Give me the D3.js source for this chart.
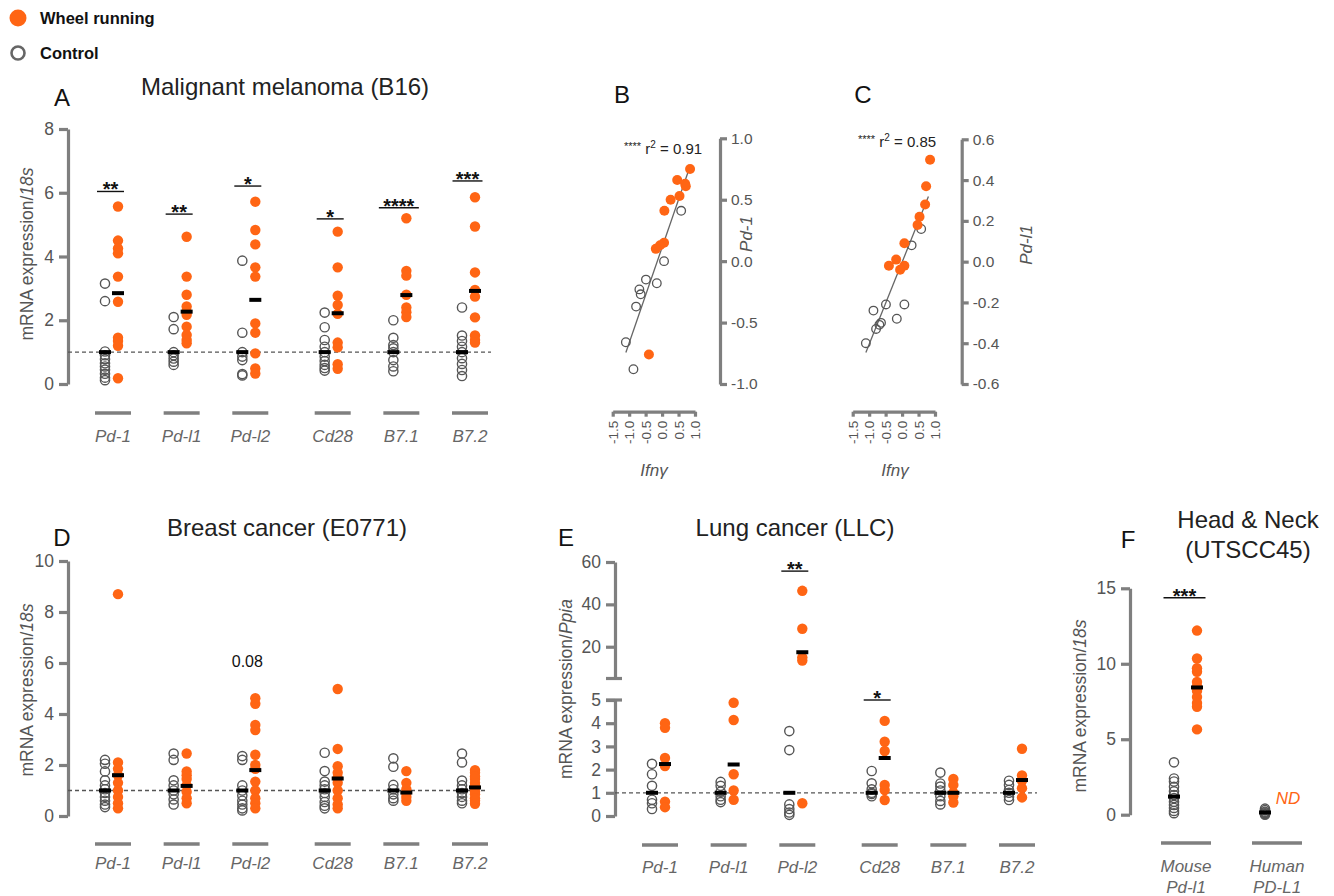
<!DOCTYPE html>
<html>
<head>
<meta charset="utf-8">
<script src="https://cdn.jsdelivr.net/npm/d3@7"></script>
<style>
  body { margin: 0; background: #fff; }
  text { font-family: "Liberation Sans", Arial, Helvetica, sans-serif; }
</style>
</head>
<body>
<svg id="fig" width="1334" height="896"></svg>
<script>
// ---- data ----
var genes = ["Pd-1", "Pd-l1", "Pd-l2", "Cd28", "B7.1", "B7.2"];

// A: malignant melanoma (B16), mRNA / 18s
var aCtrl = [
  [3.15, 2.6, 1.02, 0.9, 0.78, 0.65, 0.55, 0.45, 0.32, 0.2, 0.12],
  [2.1, 1.72, 1.0, 0.9, 0.8, 0.7, 0.6],
  [3.87, 1.61, 1.0, 0.86, 0.75, 0.31, 0.27],
  [2.24, 1.78, 1.38, 1.17, 1.0, 0.86, 0.72, 0.6, 0.5, 0.42],
  [2.0, 1.45, 1.22, 1.12, 1.0, 0.75, 0.55, 0.4],
  [2.4, 1.52, 1.35, 1.17, 1.0, 0.81, 0.63, 0.44, 0.25]
];
var aWheel = [
  [5.57, 4.5, 4.25, 4.1, 3.37, 2.58, 1.45, 1.35, 1.2, 0.18],
  [4.62, 3.37, 2.8, 2.43, 2.27, 2.17, 1.8, 1.54, 1.38, 1.28],
  [5.72, 4.83, 4.38, 3.66, 3.37, 1.9, 1.61, 0.96, 0.49, 0.33],
  [4.78, 3.66, 2.77, 2.48, 2.2, 1.3, 1.15, 0.62, 0.48],
  [5.2, 3.55, 3.4, 2.8, 2.4, 2.25, 2.1],
  [5.86, 4.94, 3.5, 2.95, 2.74, 2.09, 1.52, 1.38, 1.3]
];
var aCtrlMean = [1, 1, 1, 1, 1, 1];
var aWheelMean = [2.85, 2.27, 2.64, 2.22, 2.79, 2.92];
var aSig = ["**", "**", "*", "*", "****", "***"];
var aSigY = [6.04, 5.33, 6.21, 5.18, 5.53, 6.37];

// B: Ifng vs Pd-1
var bWheelIfng = [0.85, 0.46, 0.70, 0.72, 0.53, 0.26, 0.07, 0.06, -0.06, -0.19, -0.40];
var bWheelPd1  = [0.75, 0.66, 0.63, 0.61, 0.53, 0.50, 0.41, 0.15, 0.13, 0.10, -0.76];
var bCtrlIfng  = [0.58, 0.06, -0.49, -0.16, -0.69, -0.65, -0.79, -1.10, -0.87];
var bCtrlPd1   = [0.41, 0.00, -0.15, -0.18, -0.23, -0.27, -0.37, -0.66, -0.88];

// C: Ifng vs Pd-l1
var cWheelIfng = [0.85, 0.73, 0.70, 0.53, 0.47, 0.07, -0.18, -0.40, 0.07, -0.06];
var cWheelPdl1 = [0.50, 0.37, 0.28, 0.22, 0.18, 0.09, 0.01, -0.02, -0.02, -0.04];
var cCtrlIfng  = [0.58, 0.29, -0.49, 0.07, -0.87, -0.16, -0.64, -0.69, -0.79, -1.10];
var cCtrlPdl1  = [0.16, 0.08, -0.21, -0.21, -0.24, -0.28, -0.30, -0.31, -0.33, -0.40];

// D: breast cancer (E0771)
var dCtrl = [
  [2.2, 2.05, 1.75, 1.4, 1.2, 1.05, 0.9, 0.75, 0.6, 0.45, 0.35],
  [2.45, 2.2, 1.4, 1.2, 1.0, 0.85, 0.65, 0.45],
  [2.35, 2.2, 1.2, 1.0, 0.8, 0.6, 0.45, 0.3, 0.22],
  [2.48, 1.76, 1.35, 1.2, 1.05, 0.9, 0.75, 0.55, 0.4, 0.3],
  [2.26, 1.93, 1.22, 1.05, 0.85, 0.7, 0.6],
  [2.45, 2.1, 1.39, 1.2, 1.05, 0.9, 0.75, 0.6, 0.5]
];
var dWheel = [
  [8.7, 2.1, 1.85, 1.6, 1.3, 1.0, 0.75, 0.5, 0.3],
  [2.45, 1.75, 1.6, 1.45, 1.2, 0.95, 0.7, 0.5],
  [4.62, 4.4, 3.57, 3.37, 2.4, 2.0, 1.85, 1.35, 1.0, 0.7, 0.5, 0.3],
  [4.98, 2.63, 1.95, 1.7, 1.5, 1.3, 1.0, 0.7, 0.45, 0.3],
  [1.76, 1.3, 1.05, 0.9, 0.75, 0.6],
  [1.8, 1.7, 1.55, 1.45, 1.3, 1.2, 1.1, 0.95, 0.85, 0.7, 0.6, 0.48]
];
var dCtrlMean = [1, 1, 1, 1, 1, 1];
var dWheelMean = [1.6, 1.18, 1.8, 1.47, 0.92, 1.12];
var dNote = ["", "", "0.08", "", "", ""];
var dNoteY = [0, 0, 5.85, 0, 0, 0];

// E: lung cancer (LLC), mRNA / Ppia
var eCtrl = [
  [2.25, 1.8, 1.3, 0.7, 0.55, 0.3],
  [1.47, 1.3, 1.05, 0.85, 0.7, 0.6],
  [3.66, 2.84, 0.5, 0.3, 0.15, 0.05],
  [1.94, 1.41, 1.15, 1.0, 0.95, 0.85],
  [1.87, 1.4, 1.27, 1.1, 0.85, 0.65, 0.5],
  [1.52, 1.34, 1.12, 1.0, 0.83, 0.69]
];
var eWheel = [
  [4.0, 3.8, 2.5, 2.15, 0.62, 0.38],
  [4.88, 4.14, 1.8, 1.1, 0.7],
  [46.4, 28.5, 15, 13.5, 0.55],
  [4.1, 3.2, 2.8, 1.34, 1.12, 0.69],
  [1.6, 1.34, 1.0, 0.85, 0.58],
  [2.9, 1.75, 1.52, 1.2, 0.8]
];
var eCtrlMean = [1, 1, 1, 1, 1, 1];
var eWheelMean = [2.24, 2.22, 17.4, 2.5, 1.0, 1.55];
var eSig = ["", "", "**", "*", "", ""];
var eSigY = [0, 0, 55.7, 5, 0, 0];

// F: head & neck (UTSCC45)
var fLabels = [["Mouse", "Pd-l1"], ["Human", "PD-L1"]];
var fCtrl = [
  [3.47, 2.4, 2.2, 1.85, 1.55, 1.3, 1.1, 0.85, 0.65, 0.45, 0.25, 0.1],
  [0.4, 0.3, 0.2, 0.15, 0.1, 0.05, 0.0]
];
var fWheel = [
  [12.2, 10.35, 9.7, 9.47, 8.8, 8.5, 8.2, 7.8, 7.4, 7.15, 5.65],
  []
];
var fCtrlMean = [1.2, 0.15];
var fWheelMean = [8.43, null];
var fSig = ["***", ""];
var fSigY = [14.37, 0];

// ---- drawing ----
var ORANGE = "#ff6514", GREY = "#7f7f7f", TXT = "#555";
var svg = d3.select("#fig");
var intFmt = function (d) { return String(d); };

function styleAxis(g, fs) {
  g.attr("font-family", null).attr("font-size", null);
  g.select(".domain").attr("stroke", GREY).attr("stroke-width", 3.2);
  g.selectAll(".tick line").attr("stroke", GREY).attr("stroke-width", 3.2);
  g.selectAll(".tick text").attr("fill", TXT).style("font-size", fs + "px");
  return g;
}

function leftAxis(x, scale, ticks) {
  return styleAxis(svg.append("g").attr("transform", "translate(" + x + ",0)")
    .call(d3.axisLeft(scale).tickValues(ticks).tickFormat(intFmt)
      .tickSize(9).tickSizeOuter(0).tickPadding(5)), 17.5);
}

function yLabel(x, y, main, ital) {
  var t = svg.append("text")
    .attr("transform", "translate(" + x + "," + y + ") rotate(-90)")
    .attr("text-anchor", "middle").attr("fill", TXT).style("font-size", "17.5px");
  t.append("tspan").text(main);
  t.append("tspan").attr("font-style", "italic").text(ital);
}

function addText(x, y, s, size, opts) {
  opts = opts || {};
  return svg.append("text").attr("x", x).attr("y", y).text(s)
    .attr("text-anchor", opts.anchor || "middle")
    .attr("fill", opts.fill || "#111")
    .attr("font-style", opts.italic ? "italic" : null)
    .attr("font-weight", opts.bold ? "bold" : null)
    .style("font-size", size + "px");
}

// dot plot with group centres, open control circles, filled wheel circles, mean bars
function dotPanel(c) {
  var g = svg.append("g");
  if (c.dash) {
    g.append("line").attr("x1", c.dash[0]).attr("x2", c.dash[1])
      .attr("y1", c.y(1)).attr("y2", c.y(1))
      .attr("stroke", "#555").attr("stroke-width", 1.3).attr("stroke-dasharray", "4,3");
  }
  c.ctrl.forEach(function (vals, i) {
    var cx = c.xc(i) + c.dc;
    g.selectAll(null).data(vals).enter().append("circle")
      .attr("cx", cx).attr("cy", function (d) { return c.y(d); })
      .attr("r", 4.6).attr("fill", "none").attr("stroke", "#555").attr("stroke-width", 1.4);
  });
  c.wheel.forEach(function (vals, i) {
    var cx = c.xc(i) + c.dw;
    g.selectAll(null).data(vals).enter().append("circle")
      .attr("cx", cx).attr("cy", function (d) { return c.y(d); })
      .attr("r", 5.2).attr("fill", ORANGE);
  });
  c.ctrlMean.forEach(function (m, i) {
    if (m == null) return;
    g.append("rect").attr("x", c.xc(i) + c.dc - 6).attr("y", c.y(m) - 2)
      .attr("width", 12).attr("height", 4).attr("fill", "#000");
  });
  c.wheelMean.forEach(function (m, i) {
    if (m == null) return;
    g.append("rect").attr("x", c.xc(i) + c.dw - 6).attr("y", c.y(m) - 2)
      .attr("width", 12).attr("height", 4).attr("fill", "#000");
  });
  // category underline + label
  c.labels.forEach(function (lab, i) {
    var x = c.xc(i);
    g.append("line").attr("x1", x - c.barHalf).attr("x2", x + c.barHalf)
      .attr("y1", c.barY).attr("y2", c.barY)
      .attr("stroke", GREY).attr("stroke-width", 3.5);
    var lines = Array.isArray(lab) ? lab : [lab];
    lines.forEach(function (s, k) {
      addText(x, c.labelY + k * 21, s, 17, {fill: "#666", italic: true});
    });
  });
  // significance brackets
  if (c.sig) {
    c.sig.forEach(function (s, i) {
      if (!s) return;
      var mid = c.xc(i) + (c.dc + c.dw) / 2 - 1;
      var half = c.sigHalf || Math.max(13.5, s.length * 5);
      var yy = c.y(c.sigY[i]);
      g.append("line").attr("x1", mid - half).attr("x2", mid + half)
        .attr("y1", yy).attr("y2", yy).attr("stroke", "#111").attr("stroke-width", 1.4);
      addText(mid, yy + 5, s, 20, {bold: true});
    });
  }
}

// positions of the six gene groups (small gap between Pd-l2 and Cd28)
function groupX(x0, x1) {
  var s = d3.scaleLinear().domain([0, 5.2]).range([x0, x1]);
  return function (i) { return s(i + (i >= 3 ? 0.2 : 0)); };
}

// ---- legend ----
svg.append("circle").attr("cx", 18).attr("cy", 18).attr("r", 8.5).attr("fill", ORANGE);
svg.append("circle").attr("cx", 18).attr("cy", 53).attr("r", 6.5).attr("fill", "none")
  .attr("stroke", "#666").attr("stroke-width", 2.6);
addText(40, 24, "Wheel running", 16.5, {anchor: "start", bold: true});
addText(40, 59, "Control", 16.5, {anchor: "start", bold: true});

// ---- panel A ----
var yA = d3.scaleLinear().domain([0, 8]).range([384, 129]);
leftAxis(68, yA, [0, 2, 4, 6, 8]);
yLabel(33, 254, "mRNA expression/", "18s");
addText(62, 106, "A", 24, {});
addText(285, 95, "Malignant melanoma (B16)", 24, {fill: "#222"});
dotPanel({y: yA, xc: groupX(113, 470), dc: -8, dw: 5, ctrl: aCtrl, wheel: aWheel,
  ctrlMean: aCtrlMean, wheelMean: aWheelMean, dash: [68, 491], labels: genes,
  barY: 413, barHalf: 18, labelY: 442, sig: aSig, sigY: aSigY});

// ---- scatter panels B and C ----
function fit(xs, ys) {
  var mx = d3.mean(xs), my = d3.mean(ys);
  var sxy = d3.sum(xs, function (d, i) { return (d - mx) * (ys[i] - my); });
  var sxx = d3.sum(xs, function (d) { return (d - mx) * (d - mx); });
  var b = sxy / sxx;
  return {b: b, a: my - b * mx};
}

function scatterPanel(c) {
  var x = d3.scaleLinear().domain([-1.5, 1]).range(c.xr);
  var y = d3.scaleLinear().domain(c.yd).range([384, c.yTop]);
  var fmt = function (d) { return d.toFixed(1); };

  var gy = svg.append("g").attr("transform", "translate(" + c.axisX + ",0)")
    .call(d3.axisRight(y).tickValues(c.yTicks).tickFormat(fmt).tickSize(7).tickSizeOuter(0).tickPadding(4));
  styleAxis(gy, 15.5);

  var gx = svg.append("g").attr("transform", "translate(0,411.7)")
    .call(d3.axisBottom(x).tickValues([-1.5, -1, -0.5, 0, 0.5, 1]).tickFormat(fmt).tickSize(5).tickSizeOuter(0));
  styleAxis(gx, 13.5);
  gx.selectAll(".tick text")
    .attr("y", 0).attr("x", -9).attr("dy", "0.35em")
    .attr("transform", "rotate(-90)").style("text-anchor", "end");

  var allX = c.ctrlX.concat(c.wheelX), allY = c.ctrlY.concat(c.wheelY);
  var f = fit(allX, allY);
  var ext = d3.extent(allX);
  svg.append("line")
    .attr("x1", x(ext[0])).attr("y1", y(f.a + f.b * ext[0]))
    .attr("x2", x(ext[1] - 0.05)).attr("y2", y(f.a + f.b * (ext[1] - 0.05)))
    .attr("stroke", "#666").attr("stroke-width", 1.3);

  svg.append("g").selectAll("circle").data(c.ctrlX).enter().append("circle")
    .attr("cx", function (d) { return x(d); })
    .attr("cy", function (d, i) { return y(c.ctrlY[i]); })
    .attr("r", 4.3).attr("fill", "none").attr("stroke", "#555").attr("stroke-width", 1.3);
  svg.append("g").selectAll("circle").data(c.wheelX).enter().append("circle")
    .attr("cx", function (d) { return x(d); })
    .attr("cy", function (d, i) { return y(c.wheelY[i]); })
    .attr("r", 5).attr("fill", ORANGE);

  // r^2 annotation
  var t = svg.append("text").attr("x", c.rX).attr("y", c.rY).attr("text-anchor", "middle")
    .attr("fill", "#222").style("font-size", "15px");
  t.append("tspan").style("font-size", "11px").attr("dy", -4).text("****");
  t.append("tspan").attr("dy", 4).text(" r");
  t.append("tspan").style("font-size", "10px").attr("dy", -6).text("2");
  t.append("tspan").attr("dy", 6).text(" = " + c.r2);

  addText(c.letterX, 103, c.letter, 24, {});
  addText(c.xLabX, 476, "Ifn\u03b3", 17, {fill: "#555", italic: true});
  svg.append("text")
    .attr("transform", "translate(" + c.yLabX + "," + c.yLabY + ") rotate(-90)")
    .attr("text-anchor", "middle").attr("fill", "#555").attr("font-style", "italic")
    .style("font-size", "17px").text(c.yLab);
}

scatterPanel({xr: [612.7, 695], yd: [-1, 1], yTop: 138.3, axisX: 720,
  yTicks: [-1, -0.5, 0, 0.5, 1], ctrlX: bCtrlIfng, ctrlY: bCtrlPd1,
  wheelX: bWheelIfng, wheelY: bWheelPd1, r2: "0.91", rX: 663, rY: 154,
  letter: "B", letterX: 622, xLabX: 654, yLab: "Pd-1", yLabX: 752, yLabY: 234});

scatterPanel({xr: [852.7, 935], yd: [-0.6, 0.6], yTop: 139.3, axisX: 961.7,
  yTicks: [-0.6, -0.4, -0.2, 0, 0.2, 0.4, 0.6], ctrlX: cCtrlIfng, ctrlY: cCtrlPdl1,
  wheelX: cWheelIfng, wheelY: cWheelPdl1, r2: "0.85", rX: 897, rY: 147,
  letter: "C", letterX: 863, xLabX: 895, yLab: "Pd-l1", yLabX: 1032, yLabY: 245});

// ---- panel D ----
var yD = d3.scaleLinear().domain([0, 10]).range([816, 561]);
leftAxis(68, yD, [0, 2, 4, 6, 8, 10]);
yLabel(33, 690, "mRNA expression/", "18s");
addText(62, 546, "D", 24, {});
addText(287, 536, "Breast cancer (E0771)", 24, {fill: "#222"});
var xD = groupX(113, 470);
dotPanel({y: yD, xc: xD, dc: -8, dw: 5, ctrl: dCtrl, wheel: dWheel,
  ctrlMean: dCtrlMean, wheelMean: dWheelMean, dash: [68, 487], labels: genes,
  barY: 844, barHalf: 18, labelY: 869});
dNote.forEach(function (s, i) {
  if (s) addText(xD(i) - 3, yD(dNoteY[i]), s, 16, {});
});

// ---- panel E (broken axis) ----
var yELo = d3.scaleLinear().domain([0, 5]).range([816, 700]);
var yEHi = d3.scaleLinear().domain([5, 60]).range([678.5, 562]);
var yE = function (v) { return v <= 5 ? yELo(v) : yEHi(v); };
leftAxis(615, yELo, [0, 1, 2, 3, 4, 5]);
leftAxis(615, yEHi, [20, 40, 60]);
[yEHi(5), yELo(5)].forEach(function (yy) {
  svg.append("line").attr("x1", 606).attr("x2", 622).attr("y1", yy).attr("y2", yy)
    .attr("stroke", GREY).attr("stroke-width", 3.2);
});
yLabel(572, 689, "mRNA expression/", "Ppia");
addText(566, 546, "E", 24, {});
addText(795, 536, "Lung cancer (LLC)", 24, {fill: "#222"});
dotPanel({y: yE, xc: groupX(660, 1017), dc: -8, dw: 5, ctrl: eCtrl, wheel: eWheel,
  ctrlMean: eCtrlMean, wheelMean: eWheelMean, dash: [615, 1037], labels: genes,
  barY: 845, barHalf: 18, labelY: 873, sig: eSig, sigY: eSigY});

// ---- panel F ----
var yF = d3.scaleLinear().domain([0, 15]).range([814.7, 588.3]);
leftAxis(1130, yF, [0, 5, 10, 15]);
yLabel(1086, 706, "mRNA expression/", "18s");
addText(1128, 548, "F", 24, {});
addText(1248, 528, "Head & Neck", 24, {fill: "#222"});
addText(1248, 558, "(UTSCC45)", 24, {fill: "#222"});
var xF = d3.scalePoint().domain([0, 1]).range([1186, 1277]);
dotPanel({y: yF, xc: xF, dc: -12, dw: 11, ctrl: fCtrl, wheel: fWheel,
  ctrlMean: fCtrlMean, wheelMean: fWheelMean, labels: fLabels,
  barY: 843, barHalf: 25, labelY: 872, sig: fSig, sigY: fSigY, sigHalf: 21});
addText(xF(1) + 11, 804, "ND", 17, {fill: ORANGE, italic: true});
</script>
</body>
</html>
